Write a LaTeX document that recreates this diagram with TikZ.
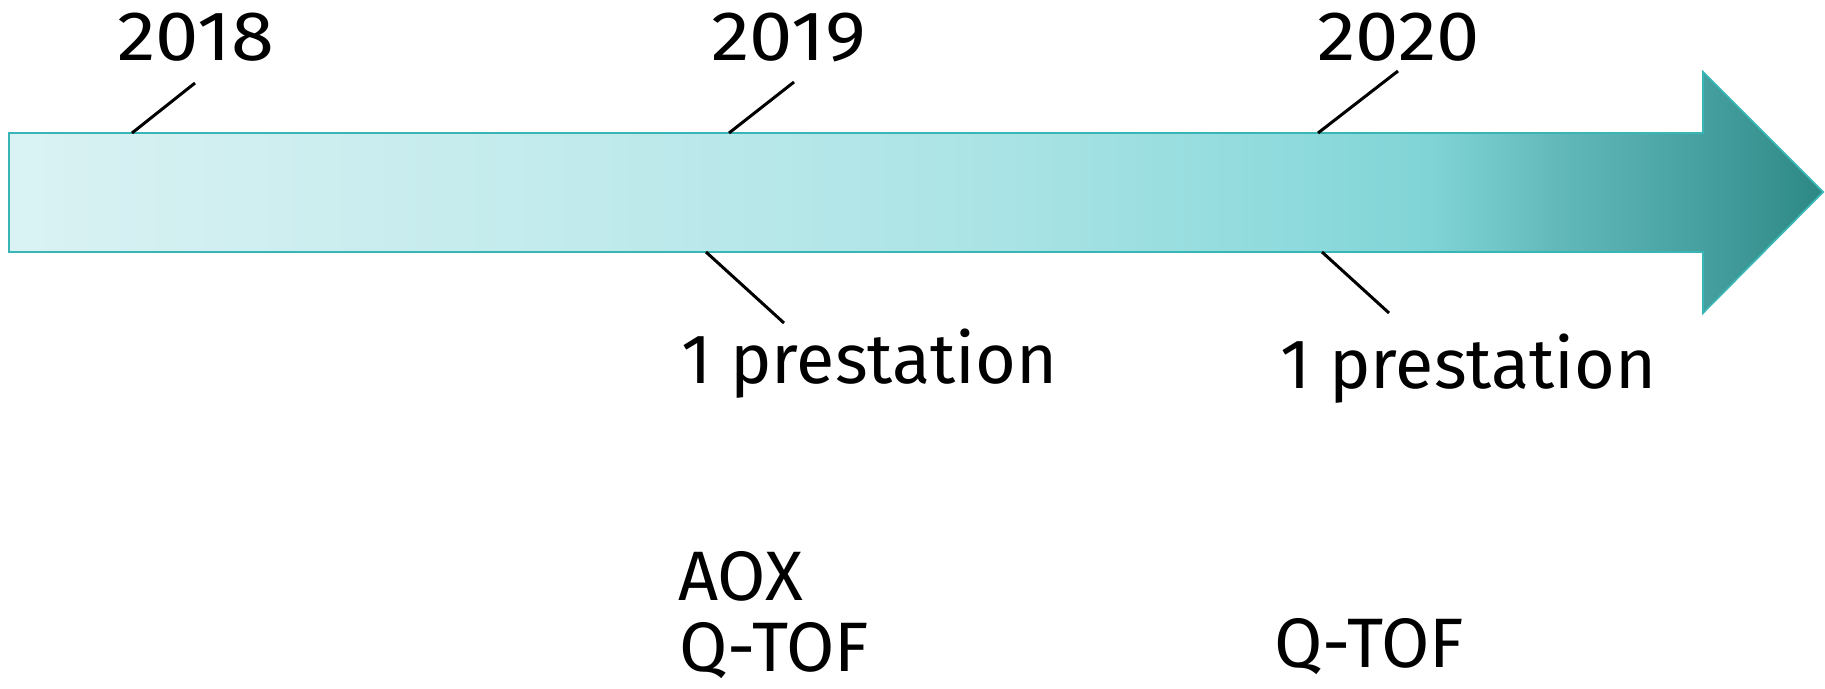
\documentclass[tikz,border=0pt]{standalone}
\usepackage{fontspec}
\setmainfont{Fira Sans}
\definecolor{ca}{RGB}{218,242,243}
\definecolor{cb}{RGB}{192,234,236}
\definecolor{cc}{RGB}{170,227,229}
\definecolor{cd}{RGB}{142,218,220}
\definecolor{ce}{RGB}{128,212,213}
\definecolor{cf}{RGB}{100,186,187}
\definecolor{cg}{RGB}{70,160,160}
\definecolor{ch}{RGB}{44,136,132}
\definecolor{arrowedge}{RGB}{58,181,181}
\newcommand{\yr}[1]{\scalebox{1.11}[1]{#1}}
\begin{document}
\begin{tikzpicture}[x=0.4pt,y=-0.4pt,
  lbl/.style={font=\fontsize{28}{33}\selectfont, inner sep=0pt, anchor=base west},
  leader/.style={line width=1.2pt, black}]
\useasboundingbox (0,0) rectangle (1825,688);
\begin{scope}
\clip (9,133) -- (1703,133) -- (1703,72) -- (1823,192) -- (1703,313) -- (1703,252) -- (9,252) -- cycle;
\shade[left color=ca,right color=cb] (8,60) rectangle (601,330);
\shade[left color=cb,right color=cc] (600,60) rectangle (1001,330);
\shade[left color=cc,right color=cd] (1000,60) rectangle (1301,330);
\shade[left color=cd,right color=ce] (1300,60) rectangle (1431,330);
\shade[left color=ce,right color=cf] (1430,60) rectangle (1551,330);
\shade[left color=cf,right color=cg] (1550,60) rectangle (1701,330);
\shade[left color=cg,right color=ch] (1700,60) rectangle (1825,330);
\end{scope}
\draw[arrowedge, line width=0.7pt, line join=miter] (9,133) -- (1703,133) -- (1703,72) -- (1823,192) -- (1703,313) -- (1703,252) -- (9,252) -- cycle;

\node[lbl] (y18) at (117,60) {\yr{2018}};
\node[lbl] (y19) at (711,60) {\yr{2019}};
\node[lbl] (y20) at (1317,60) {\yr{2020}};
\node[lbl] (p19) at (681,383) {1 prestation};
\node[lbl] (p20) at (1280,388) {1 prestation};
\node[lbl] (aox) at (678,600) {AOX};
\node[lbl] (q19) at (679,671) {Q-TOF};
\node[lbl] (q20) at (1274,667) {Q-TOF};

\coordinate (t18a) at (132,133); \coordinate (t18b) at (195,83);
\coordinate (t19a) at (729,133); \coordinate (t19b) at (794,82);
\coordinate (t20a) at (1318,133); \coordinate (t20b) at (1398,71);
\coordinate (b19a) at (706,252); \coordinate (b19b) at (784,323);
\coordinate (b20a) at (1322,252); \coordinate (b20b) at (1389,313);
\draw[leader] (t18a) -- (t18b);
\draw[leader] (t19a) -- (t19b);
\draw[leader] (t20a) -- (t20b);
\draw[leader] (b19a) -- (b19b);
\draw[leader] (b20a) -- (b20b);
\end{tikzpicture}
\end{document}
